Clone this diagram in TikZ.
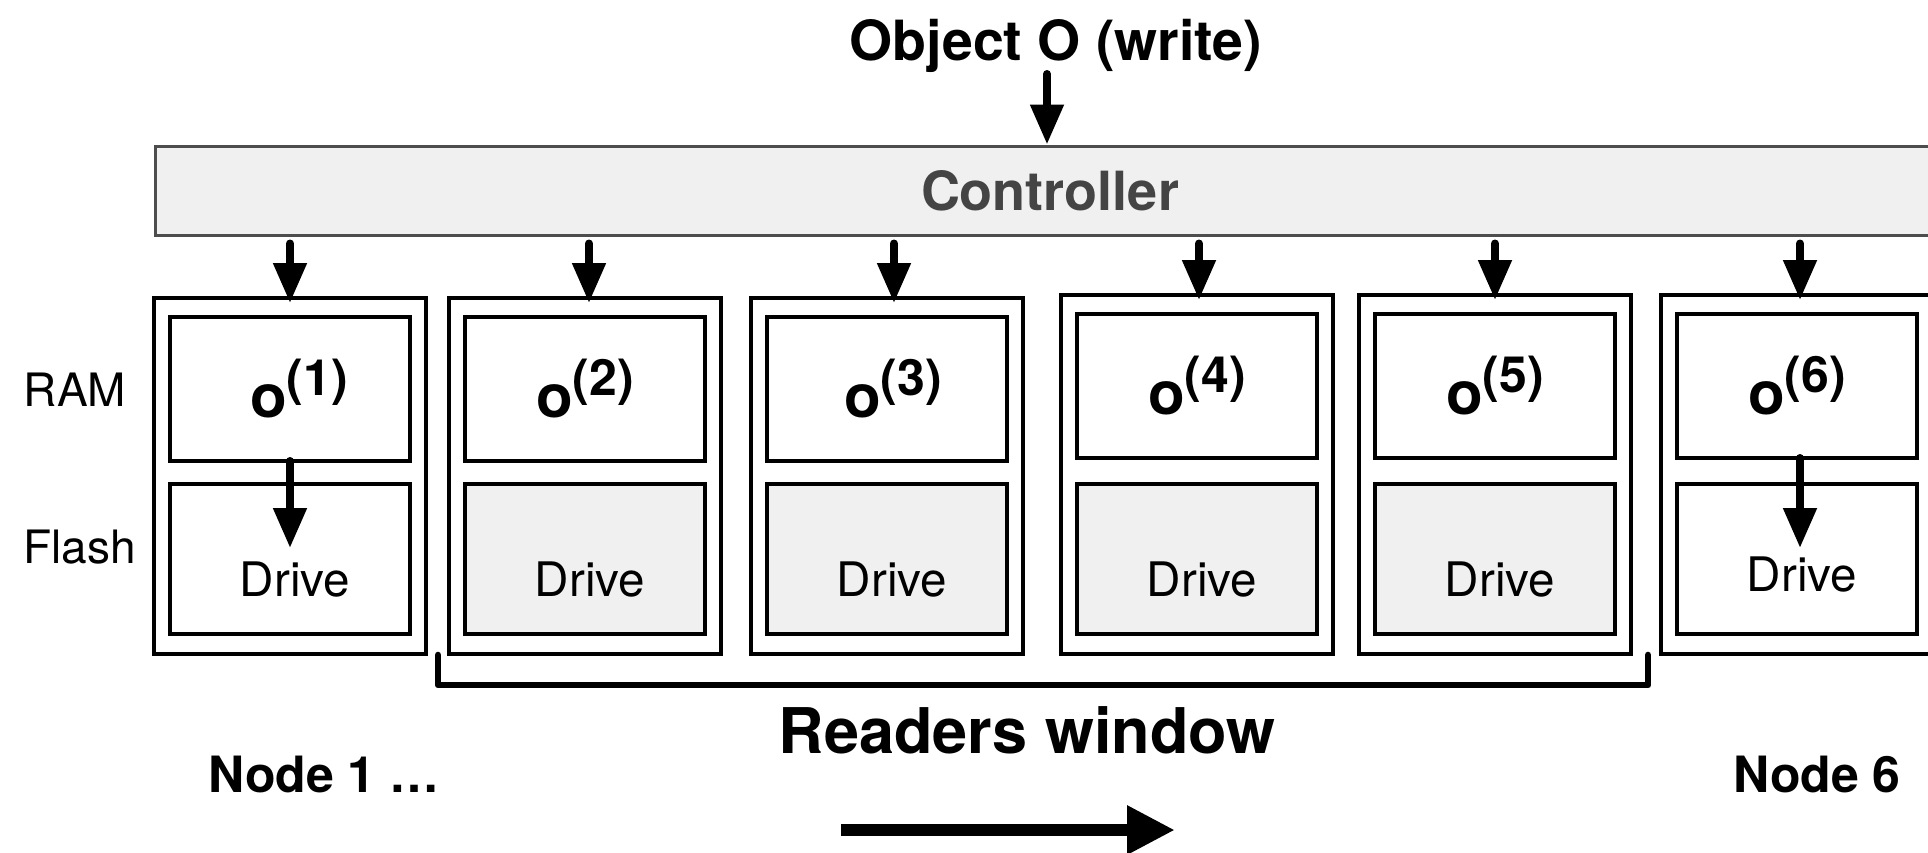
\documentclass[tikz,border=0pt]{standalone}
\usepackage{fontspec}
\setmainfont{TeX Gyre Heros}
\usetikzlibrary{arrows.meta}
\definecolor{boxgray}{HTML}{F0F0F0}
\definecolor{ctrlline}{HTML}{4D4D4D}
\definecolor{ctrltext}{HTML}{444444}
\newcommand\fsz[1]{\fontsize{#1}{#1}\selectfont}
\begin{document}
\begin{tikzpicture}[x=0.5pt,y=-0.5pt,
  outerbox/.style={draw, line width=1.6pt, minimum width=136pt, anchor=north west, inner sep=0pt, outer sep=0pt},
  rambox/.style={draw, line width=1.6pt, minimum width=120pt, minimum height=72pt, anchor=north west, inner sep=0pt, outer sep=0pt, font=\fsz{30pt}\bfseries},
  drivebox/.style={draw, line width=1.6pt, minimum width=120pt, minimum height=75pt, anchor=north west, inner sep=0pt, outer sep=0pt, font=\fsz{23.8pt}, text depth=0pt},
  arr/.style={line width=4pt, line cap=round, -{Triangle[length=20pt,width=16pt]}},
  ctrlbox/.style={draw=ctrlline, fill=boxgray, line width=1.5pt, minimum width=895pt, minimum height=44.5pt, font=\fsz{27pt}\bfseries, text=ctrltext},
  sidelabel/.style={font=\fsz{23pt}, anchor=base},
  boldlabel/.style={font=\fsz{#1}\bfseries, anchor=base}
]
\useasboundingbox (0,0) rectangle (1928,852);
\clip (0,0) rectangle (1928,852);
\fill[white] (0,0) rectangle (1928,852);

% title and controller
\node[boldlabel=27.7pt] (title) at (1056,60) {Object O (write)};
\node[ctrlbox] (ctrl) at (1050,190.5) {Controller};
\coordinate (tarr) at (1047,74);
\draw[arr] (tarr) -- (tarr |- ctrl.north);

% storage nodes
\foreach \i/\L/\T/\H/\fc/\dth/\ax/\ox in {1/154/298/178/white/37pt/0pt/9pt, 2/449/298/178/boxgray/37pt/2pt/0pt, 3/751/298/178/boxgray/37pt/3.5pt/6pt, 4/1061/295/179.5/boxgray/37pt/1pt/0pt, 5/1359/295/179.5/boxgray/37pt/0pt/0pt, 6/1661/295/179.5/white/32pt/1.5pt/0pt}{
  \node[outerbox, minimum height=\H pt] (n\i) at (\L,\T) {};
  \node[rambox] (r\i) at (\L+16,\T+19) {\hspace*{\ox}o\raisebox{11pt}{\fsz{25pt}(\i)}};
  \node[drivebox, fill=\fc, text height=\dth] (d\i) at (\L+16,484) {\hspace*{5pt}Drive};
  \draw[arr] ([xshift=\ax, yshift=-3.5pt]ctrl.south -| n\i.north) -- ([xshift=\ax, yshift=-2.5pt]n\i.north);
}
\draw[arr] (r1.south) -- ([yshift=-32pt]d1.north);
\draw[arr] ([xshift=1.5pt]r6.south) -- ([xshift=1.5pt, yshift=-32pt]d6.north);

% side labels
\node[sidelabel] (ramlbl) at (75,406.5) {RAM};
\node[sidelabel] (flashlbl) at (79.5,563) {Flash};

% readers window bracket
\draw[line width=3.3pt, line cap=round, line join=round] (438,655) -- (438,685) -- (1648,685) -- (1648,655);
\node[boldlabel=31.5pt] (rw) at (1027,753) {Readers window};
\node[boldlabel=25pt] (nodeonelbl) at (324,792) {Node 1 …};
\node[boldlabel=25pt] (nodesixlbl) at (1817,792) {Node 6};

% direction arrow
\coordinate (ba) at (841,830);
\coordinate (bb) at (1175,830);
\draw[line width=6pt, -{Triangle[length=24pt,width=23pt]}] (ba) -- (bb);
\end{tikzpicture}
\end{document}
